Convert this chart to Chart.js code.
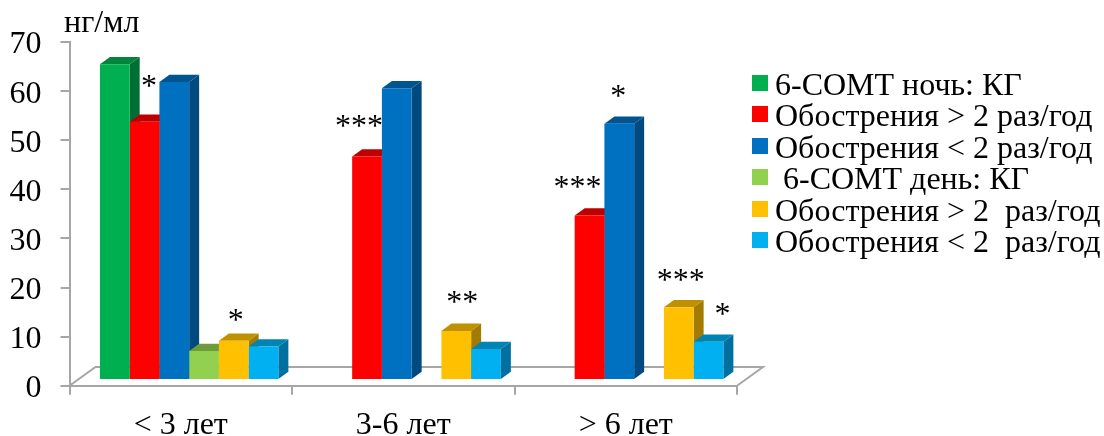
<!DOCTYPE html>
<html><head><meta charset="utf-8">
<style>html,body{margin:0;padding:0;background:#fff}canvas{display:block}</style>
<script src="https://cdn.jsdelivr.net/npm/chart.js@4"></script>
</head><body><canvas id="c" width="1104" height="436"></canvas>
<script>
const categories = ['< 3 лет', '3-6 лет', '> 6 лет'];
const seriesNames = ['6-СОМТ ночь: КГ', 'Обострения > 2 раз/год', 'Обострения < 2 раз/год', '\u00A06-СОМТ день: КГ', 'Обострения > 2  раз/год', 'Обострения < 2  раз/год'];
const nightControl = [64.3, null, null];
const nightFrequent = [52.6, 45.5, 33.5];
const nightRare = [60.7, 59.4, 52.2];
const dayControl = [5.9, null, null];
const dayFrequent = [8.0, 10.0, 14.8];
const dayRare = [6.8, 6.3, 7.8];
const frontColors = ['#00B050', '#FF0000', '#0070C0', '#92D050', '#FFC000', '#00B0F0'];
const topColors = ['#00843C', '#BF0000', '#005490', '#6E9C3C', '#BF9000', '#0084B4'];
const sideColors = ['#006F35', '#A00000', '#004A80', '#5C8332', '#A37B00', '#0070A0'];
const unitLabel = 'нг/мл';
const stars = [
  {s:1,c:0,t:'*',dx:4.5,dy:-40},{s:4,c:0,t:'*',dx:2,dy:-25},
  {s:1,c:1,t:'***',dx:-8,dy:-35},{s:4,c:1,t:'**',dx:6,dy:-33},
  {s:2,c:2,t:'*',dx:-1,dy:-32},{s:1,c:2,t:'***',dx:-12,dy:-33},
  {s:4,c:2,t:'***',dx:2,dy:-32},{s:5,c:2,t:'*',dx:14,dy:-32}
];
const values = [nightControl, nightFrequent, nightRare, dayControl, dayFrequent, dayRare];
const SERIF = '"Liberation Serif", serif';
const GRAY = '#A6A6A6';
const shift = {x: 8.4, y: -5.7};   // bars stand inside the floor, not on its front edge
const depth = {x: 10, y: 7.3};    // 3-D bar depth
const floor = {x: 26, y: 18.7};

function poly(ctx, pts, fill) {
  ctx.fillStyle = fill; ctx.beginPath();
  pts.forEach((p, i) => i ? ctx.lineTo(p[0], p[1]) : ctx.moveTo(p[0], p[1]));
  ctx.closePath(); ctx.fill();
}
const bars3d = {
  id: 'bars3d',
  beforeDatasetsDraw(chart) {
    const ctx = chart.ctx, a = chart.chartArea;
    ctx.save();
    ctx.strokeStyle = GRAY; ctx.lineWidth = 2; ctx.beginPath();
    ctx.moveTo(a.left, a.bottom); ctx.lineTo(a.left + floor.x, a.bottom - floor.y);
    ctx.lineTo(a.right + floor.x, a.bottom - floor.y); ctx.lineTo(a.right, a.bottom);
    ctx.stroke(); ctx.restore();
    ctx.save(); ctx.translate(shift.x, shift.y);
    // sides and tops left to right; the library then paints the fronts over them
    values.forEach((v, i) => {
      chart.getDatasetMeta(i).data.forEach((el, k) => {
        if (v[k] == null) return;
        const p = el.getProps(['x', 'y', 'base', 'width'], true);
        const l = p.x - p.width / 2, r = p.x + p.width / 2;
        poly(ctx, [[r, p.y], [r + depth.x, p.y - depth.y], [r + depth.x, p.base - depth.y], [r, p.base]], sideColors[i]);
        poly(ctx, [[l, p.y], [l + depth.x, p.y - depth.y], [r + depth.x, p.y - depth.y], [r, p.y]], topColors[i]);
      });
    });
  },
  afterDatasetsDraw(chart) { chart.ctx.restore(); },
  afterDraw(chart) {
    const ctx = chart.ctx;
    ctx.save();
    ctx.fillStyle = '#000'; ctx.textBaseline = 'alphabetic'; ctx.textAlign = 'left';
    ctx.font = '32px ' + SERIF;
    ctx.fillText(unitLabel, 64, 32);
    // legend
    seriesNames.forEach((n, i) => {
      const y = 75 + i * 31.4;
      ctx.fillStyle = frontColors[i]; ctx.fillRect(752, Math.round(y), 16, 16);
      ctx.fillStyle = '#000'; ctx.font = '32px ' + SERIF;
      ctx.fillText(n, 775, y + 20);
    });
    // significance marks
    ctx.font = '32px ' + SERIF; ctx.textAlign = 'center';
    stars.forEach(m => {
      const el = chart.getDatasetMeta(m.s).data[m.c];
      ctx.fillText(m.t, el.x + shift.x + m.dx, el.y + shift.y + m.dy + 14.5);
    });
    ctx.restore();
  }
};
new Chart(document.getElementById('c'), {
  type: 'bar',
  data: {
    labels: categories,
    datasets: values.map((v, i) => ({
      label: seriesNames[i], data: v, backgroundColor: frontColors[i], borderWidth: 0,
      categoryPercentage: 0.802, barPercentage: 1
    }))
  },
  plugins: [bars3d],
  options: {
    responsive: false, animation: false, devicePixelRatio: 1,
    layout: {padding: {top: 42, right: 367, bottom: 0, left: 0}},
    plugins: {legend: {display: false}, tooltip: {enabled: false}, title: {display: false}},
    scales: {
      x: {
        afterFit(s) { s.height = 50.3; },
        border: {color: GRAY, width: 2},
        grid: {drawOnChartArea: false, color: GRAY, lineWidth: 2, tickLength: 9},
        ticks: {color: '#000', font: {family: SERIF, size: 32}, padding: 12, maxRotation: 0}
      },
      y: {
        min: 0, max: 70,
        afterFit(s) { s.width = 69.5; },
        border: {color: GRAY, width: 2},
        grid: {drawOnChartArea: false, color: GRAY, lineWidth: 2, tickLength: 9},
        ticks: {stepSize: 10, color: '#000', font: {family: SERIF, size: 32}, padding: 19, labelOffset: 3}
      }
    }
  }
});
</script></body></html>
